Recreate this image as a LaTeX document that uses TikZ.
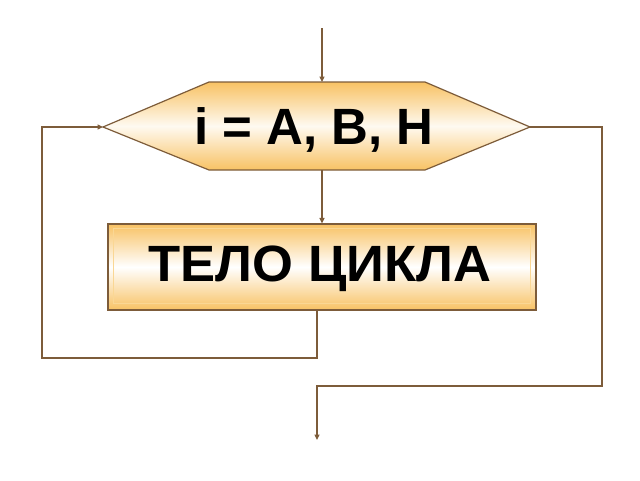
\documentclass[tikz,border=0pt]{standalone}
\usepackage{fontspec}
\setmainfont{Liberation Sans}
\usetikzlibrary{arrows.meta,calc}
\definecolor{ln}{HTML}{7D5C3A}
\definecolor{org}{HTML}{F8C264}
\definecolor{orgl}{HTML}{FBDCA0}
\tikzset{
  conn/.style={draw=ln, line width=1.2pt},
  arr/.style={conn, -{Triangle[length=5.5pt,width=5pt]}},
  lbl/.style={font=\fontsize{51}{51}\bfseries\selectfont, inner sep=0pt},
}
\begin{document}
\begin{tikzpicture}[x=1pt,y=-1pt]
\useasboundingbox (0,0) rectangle (640,480);
% hexagon
\coordinate (hw) at (103,127);
\coordinate (he) at (530,127);
\coordinate (hnw) at (209,82);
\coordinate (hne) at (425,82);
\coordinate (hsw) at (209,170);
\coordinate (hse) at (425,170);
\coordinate (htop) at (322,82);
\coordinate (hbot) at (322,170);
\path[draw=ln, line width=1.2pt, top color=org, bottom color=org, middle color=white!85!orgl]
  (hw) -- (hnw) -- (hne) -- (he) -- (hse) -- (hsw) -- cycle;
\node[lbl] (hex) at (314,130) {i = A, B, H};
% body rectangle
\node[draw=ln, line width=1.2pt, minimum width=428pt, minimum height=86pt, inner sep=0pt,
  shading=axis, top color=org, bottom color=org, middle color=white] (body) at (322,267) {};
\draw[draw=orgl!80!org, line width=0.8pt] ($(body.north west)+(6,5)$) rectangle ($(body.south east)+(-6,-7)$);
\node[lbl, xscale=1.03] (bodyt) at (320,269) {ТЕЛО ЦИКЛА};
% connectors
\coordinate (in) at (322,28);
\draw[arr] (in) -- (htop);
\draw[arr] (hbot) -- (body.north);
\coordinate (b1) at (317,310);
\coordinate (b2) at (317,358);
\coordinate (b3) at (42,358);
\coordinate (b4) at (42,127);
\draw[arr] (b1) -- (b2) -- (b3) -- (b4) -- (hw);
\coordinate (r1) at (602,127);
\coordinate (r2) at (602,386);
\coordinate (r3) at (317,386);
\coordinate (out) at (317,440);
\draw[arr] (he) -- (r1) -- (r2) -- (r3) -- (out);
\end{tikzpicture}
\end{document}
